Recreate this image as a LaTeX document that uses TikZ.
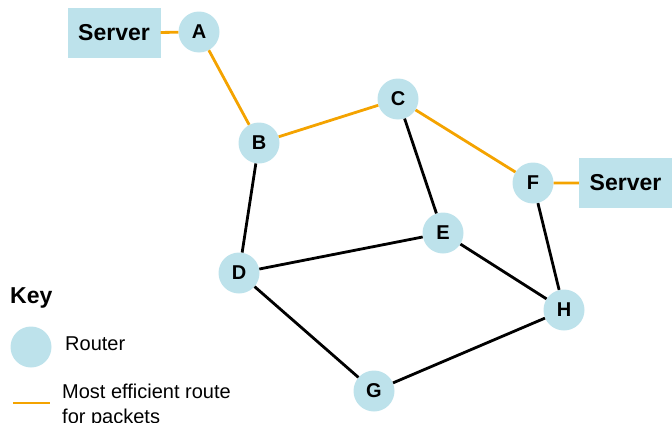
\documentclass[tikz,border=0pt]{standalone}
\usepackage{fontspec}
\setmainfont{Liberation Sans}
\usepackage{tikz}

\definecolor{ruterblaa}{HTML}{BDE2EB}
\definecolor{rute}{HTML}{F4A300}

\tikzset{
  ruter/.style={circle,fill=ruterblaa,minimum size=41pt,inner sep=0pt,font=\fontsize{20}{24}\selectfont\bfseries},
  tjener/.style={rectangle,fill=ruterblaa,minimum width=93pt,minimum height=50pt,inner sep=0pt,font=\fontsize{23}{27}\selectfont\bfseries},
  kant/.style={line width=2.8pt,color=black},
  beste/.style={line width=2.8pt,color=rute}
}

\begin{document}
\begin{tikzpicture}[x=1pt,y=-1pt]
\useasboundingbox (0,0) rectangle (672,423);
% tegn tjenere og rutere
\node[tjener] (serverV) at (114,33) {Server};
\node[tjener] (serverH) at (625.5,183) {Server};
\node[ruter] (A) at (199,32) {A};
\node[ruter] (B) at (259,143) {B};
\node[ruter] (C) at (398,99) {C};
\node[ruter] (D) at (239,273) {D};
\node[ruter] (E) at (443,233) {E};
\node[ruter] (F) at (533,183) {F};
\node[ruter] (G) at (374,391) {G};
\node[ruter] (H) at (564,310) {H};
% tegn forbindelser
\draw[kant] (B) -- (D);
\draw[kant] (C) -- (E);
\draw[kant] (D) -- (E);
\draw[kant] (E) -- (H);
\draw[kant] (D) -- (G);
\draw[kant] (G) -- (H);
\draw[kant] (F) -- (H);
% tegn beste rute
\draw[beste] (serverV) -- (A) -- (B) -- (C) -- (F) -- (serverH);
% tegn forklaring
\node[anchor=base west,inner sep=0pt,font=\fontsize{23}{27}\selectfont\bfseries] (key) at (10,303) {Key};
\node[circle,fill=ruterblaa,minimum size=41pt,inner sep=0pt] (keyruter) at (31,347) {};
\node[anchor=base west,inner sep=0pt,font=\fontsize{20}{24}\selectfont] (keytekst) at (65,350) {Router};
\draw[beste] (13,403) -- (50,403);
\node[anchor=north west,align=left,inner sep=0pt,font=\fontsize{20}{25}\selectfont] (keyrute) at (62,384) {Most efficient route\\for packets};
\end{tikzpicture}
\end{document}
